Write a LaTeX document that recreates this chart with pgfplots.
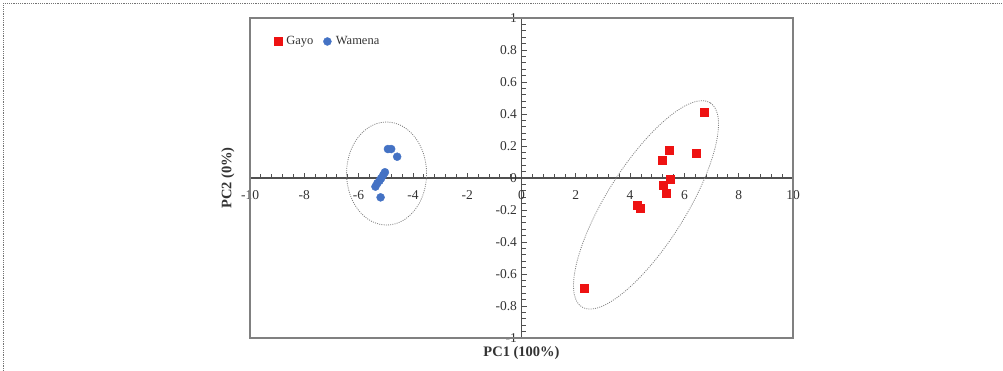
\documentclass[border=0pt]{standalone}
\usepackage{pgfplots}
\pgfplotsset{compat=1.18}
\usepackage{fontspec}
\setmainfont{Liberation Serif}
\definecolor{gayo}{RGB}{238,18,18}
\definecolor{wamena}{RGB}{68,114,196}
\definecolor{axgray}{RGB}{80,80,80}
\definecolor{framegray}{RGB}{128,128,128}
\begin{document}
\begin{tikzpicture}[x=1pt,y=1pt]
\useasboundingbox (0,0) rectangle (1003,371);
\draw[black!55, line width=0.8pt, dash pattern=on 1.2pt off 1pt] (3,0) -- (3,368) -- (1003,368);
\begin{axis}[
  at={(250pt,33pt)}, anchor=south west,
  scale only axis, width=543pt, height=320pt,
  xmin=-10, xmax=10, ymin=-1, ymax=1,
  axis lines=middle,
  axis line style={-, axgray, line width=1.2pt},
  hide obscured x ticks=false, hide obscured y ticks=false,
  xtick={-10,-8,-6,-4,-2,0,2,4,6,8,10},
  ytick={-1,-0.8,-0.6,-0.4,-0.2,0,0.2,0.4,0.6,0.8,1},
  minor x tick num=4, minor y tick num=4,
  tick align=inside,
  major tick length=5pt, minor tick length=4pt,
  tick style={axgray, line width=0.8pt},
  /pgf/number format/assume math mode=true,
  tick label style={font=\fontsize{13.5}{14}\selectfont, text=black!80},
  x tick label style={anchor=north, yshift=-9pt},
  y tick label style={anchor=east, xshift=-1pt},
  xlabel={\textbf{PC1 (100\%)}},
  ylabel={\textbf{PC2 (0\%)}},
  x label style={at={(axis description cs:0.5,-0.047)}, anchor=center, font=\fontsize{14.5}{15}\selectfont, text=black!80},
  y label style={at={(axis description cs:-0.0405,0.5)}, anchor=center, rotate=90, font=\fontsize{14.5}{15}\selectfont, text=black!80},
  legend style={at={(axis description cs:0.038,0.955)}, anchor=north west, draw=none, fill=none,
    font=\fontsize{12.5}{13}\selectfont, text=black!80,
    /tikz/every even column/.append style={column sep=8pt},
    /tikz/every odd column/.append style={column sep=2.5pt}},
  legend image code/.code={\draw[#1] plot coordinates {(0.08cm,0cm)};},
  legend columns=2,
  legend cell align=left,
  clip=false,
]
\draw[framegray, line width=1.4pt] (rel axis cs:0,0) rectangle (rel axis cs:1,1);
\draw[gray, line width=0.8pt, dash pattern=on 1pt off 1.2pt] (axis cs:-4.97,0.028) ellipse [x radius=40pt, y radius=51.5pt];
\draw[gray, line width=0.8pt, dash pattern=on 1pt off 1.2pt] (axis cs:4.586,-0.168) ellipse [x radius=120.6pt, y radius=39.6pt, rotate=57.8];
\addplot[only marks, mark=square*, mark size=4pt, color=gayo] coordinates {
 (6.74,0.414) (5.43,0.173) (5.18,0.113) (6.45,0.154) (5.46,-0.006)
 (5.22,-0.044) (5.33,-0.092) (4.26,-0.169) (4.39,-0.188) (2.32,-0.689)
};
\addlegendentry{Gayo}
\addplot[only marks, mark=*, mark size=4pt, color=wamena] coordinates {
 (-4.92,0.181) (-4.80,0.181) (-4.58,0.133) (-5.03,0.036) (-5.09,0.019)
 (-5.17,-0.002) (-5.23,-0.017) (-5.31,-0.033) (-5.38,-0.054) (-5.19,-0.121)
};
\addlegendentry{Wamena}
\end{axis}
\end{tikzpicture}
\end{document}
